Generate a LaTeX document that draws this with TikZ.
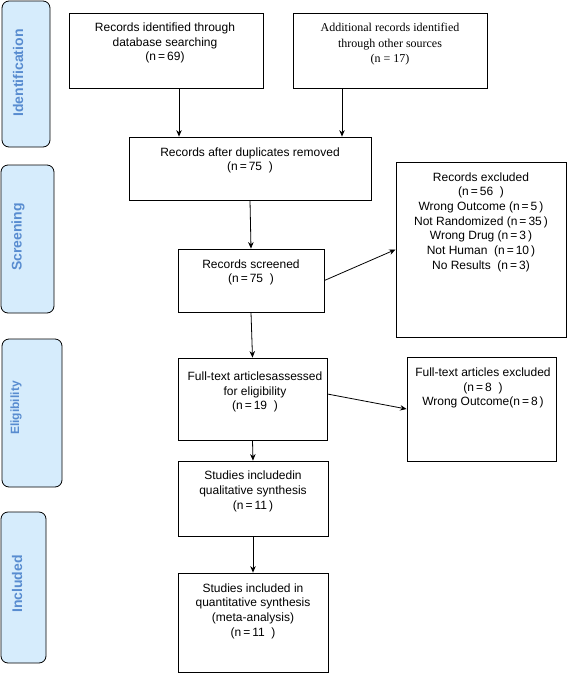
\documentclass[tikz,border=0pt]{standalone}
\usepackage{fontspec}
\setmainfont{Liberation Sans}
\newfontfamily\timesfont{Liberation Serif}
\usetikzlibrary{arrows.meta}
\definecolor{sidefill}{RGB}{214,236,252}
\definecolor{sidetext}{RGB}{88,140,208}
\begin{document}
\begin{tikzpicture}[x=1pt,y=-1pt,
  pbox/.style={draw, line width=0.8pt, inner sep=0pt},
  ptext/.style={align=center, font=\fontsize{12}{14.7}\selectfont, inner sep=0pt},
  stext/.style={align=center, font=\timesfont\fontsize{12}{15.5}\selectfont, inner sep=0pt},
  side/.style={draw, line width=0.8pt, fill=sidefill, rounded corners=7pt, inner sep=0pt},
  sidelabel/.style={rotate=90, text=sidetext, font=\fontsize{14}{16}\selectfont\bfseries, inner sep=0pt},
  arr/.style={line width=0.8pt, -{Stealth[length=6.5pt,width=5.5pt]}}]
\useasboundingbox (0,0) rectangle (567,673);

% side phase boxes
\node[side, minimum width=48pt, minimum height=146pt] (sid) at (26,74) {};
\node[sidelabel] (lid) at (18,73) {Identification};
\node[side, minimum width=53pt, minimum height=148pt] (ssc) at (27.5,239) {};
\node[sidelabel] (lsc) at (18,237) {Screening};
\node[side, minimum width=60pt, minimum height=148pt] (sel) at (32,413) {};
\node[sidelabel, font=\fontsize{12}{14}\selectfont\bfseries] (lel) at (16,408) {Eligibility};
\node[side, minimum width=45pt, minimum height=151pt] (sin) at (23.5,587.5) {};
\node[sidelabel] (lin) at (17,584) {Included};

% boxes
\node[pbox, minimum width=194pt, minimum height=75pt] (rid) at (166,50.5) {};
\node[ptext] (trid) at (165,43) {Records identified through\\database searching\\(n\,=\,69)};

\node[pbox, minimum width=194pt, minimum height=75pt] (add) at (390,50.5) {};
\node[stext] (tadd) at (390,44.5) {Additional records identified\\through other sources\\(n = 17)};

\node[pbox, minimum width=242pt, minimum height=63pt] (dup) at (250,168.5) {};
\node[ptext] (tdup) at (250,160.5) {Records after duplicates removed\\(n\,=\,75\ \ )};

\node[pbox, minimum width=146pt, minimum height=63pt] (scr) at (251,280.5) {};
\node[ptext] (tscr) at (251,272.5) {Records screened\\(n\,=\,75\ \ )};

\node[pbox, minimum width=170pt, minimum height=175pt] (exc) at (481,249.5) {};
\node[ptext] (texc) at (481,222) {Records excluded\\(n\,=\,56\ \ )\\Wrong Outcome (n\,=\,5\,)\\Not Randomized (n\,=\,35\,)\\Wrong Drug (n\,=\,3\,)\\Not Human\ \ (n\,=\,10\,)\\No Results\ \ (n\,=\,3)};

\node[pbox, minimum width=149pt, minimum height=82pt] (ft) at (252.5,399) {};
\node[ptext] (tft) at (255,392) {Full-text articlesassessed\\for eligibility\\(n\,=\,19\ \ )};

\node[pbox, minimum width=149pt, minimum height=104pt] (fte) at (481.5,409) {};
\node[ptext] (tfte) at (483,388) {Full-text articles excluded\\(n\,=\,8\ \ )\\Wrong Outcome(n\,=\,8\,)};

\node[pbox, minimum width=150pt, minimum height=75pt] (qual) at (253,498.5) {};
\node[ptext] (tqual) at (253,491.5) {Studies includedin\\qualitative synthesis\\(n\,=\,11\,)};

\node[pbox, minimum width=150pt, minimum height=99pt] (quant) at (253,622.5) {};
\node[ptext] (tquant) at (253,611) {Studies included in\\quantitative synthesis\\(meta-analysis)\\(n\,=\,11\ \ )};

% connectors
\draw[arr] ([xshift=13pt]rid.south) -- ([xshift=13pt]rid.south |- dup.north);
\draw[arr] ([xshift=-48pt]add.south) -- ([xshift=-48pt]add.south |- dup.north);
\draw[arr] (dup.south) -- (scr.north);
\draw[arr] (scr.east) -- (exc.west);
\draw[arr] (scr.south) -- (ft.north);
\draw[arr] ([yshift=5pt]ft.east) -- (fte.west);
\draw[arr] (ft.south) -- (qual.north);
\draw[arr] (qual.south) -- (quant.north);
\end{tikzpicture}
\end{document}
